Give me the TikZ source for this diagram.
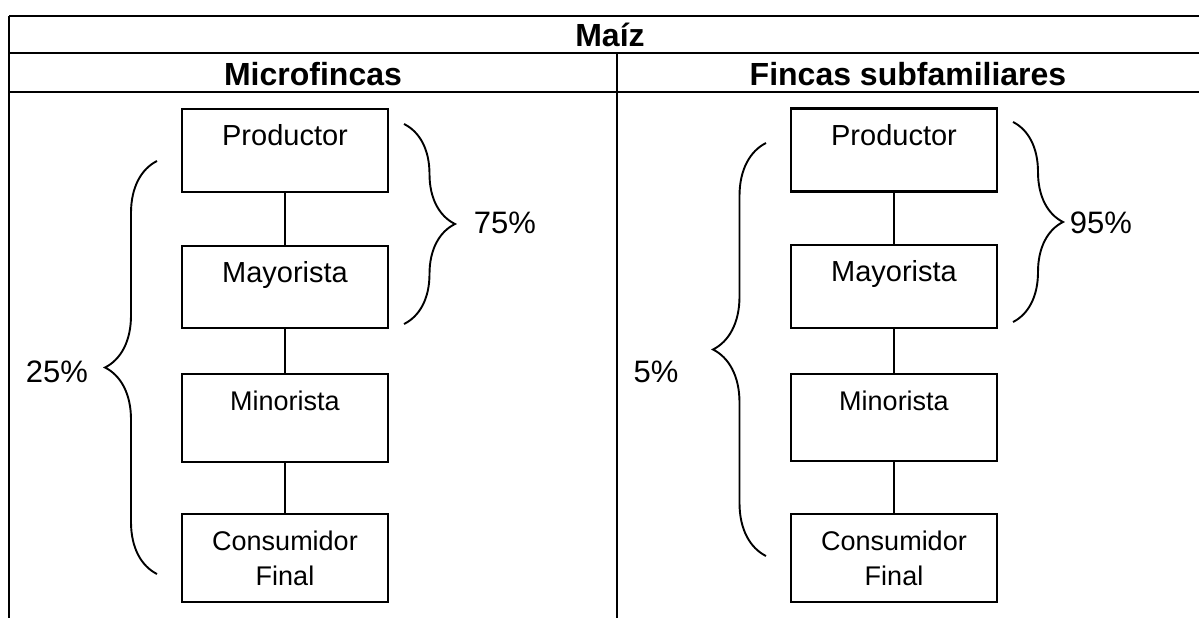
\documentclass[tikz,border=0pt]{standalone}
\usepackage{fontspec}
\setmainfont{Liberation Sans}
\usetikzlibrary{decorations.pathreplacing}
\tikzset{
	caja/.style={draw, line width=2.6pt, minimum width=206pt, inner sep=0pt, align=center, font=\fontsize{27}{35}\selectfont},
	rotulo/.style={anchor=base, inner sep=0pt, font=\fontsize{#1}{35}\selectfont},
	titulo/.style={anchor=base, inner sep=0pt, font=\fontsize{32}{38}\selectfont\bfseries},
	cifra/.style={anchor=base, inner sep=0pt, font=\fontsize{31}{37}\selectfont},
	linea/.style={line width=1.8pt},
	llave/.style={line width=1.9pt, decorate, decoration={brace, amplitude=#1}}
}

\begin{document}
\begin{tikzpicture}[x=1pt, y=-1pt]
			%%%%% START %%%%%
			\useasboundingbox (0,0) rectangle (1199,618);
			
			% tabla
			\draw[linea] (9,16) -- (1199,16);
			\draw[linea] (9,53) -- (1199,53);
			\draw[linea] (9,92) -- (1199,92);
			\draw[linea] (9,16) -- (9,618);
			\draw[linea] (617,53) -- (617,618);
			
			\node[titulo] (maiz) at (610,47) {Maíz};
			\node[titulo] (micro) at (313,85) {Microfincas};
			\node[titulo] (subfam) at (908,85) {Fincas subfamiliares};
			
			% microfincas
			\node[caja, minimum height=83pt] (prodA) at (285,150.5) {};
			\node[caja, minimum height=82pt] (mayA) at (285,287) {};
			\node[caja, minimum height=88pt] (minA) at (285,418) {};
			\node[caja, minimum height=88pt] (consA) at (285,558) {Consumidor\\Final};
			
			\node[rotulo=29] (tprodA) at ([yshift=-38pt]prodA.north) {Productor};
			\node[rotulo=29] (tmayA) at ([yshift=-38pt]mayA.north) {Mayorista};
			\node[rotulo=27] (tminA) at ([yshift=-38pt]minA.north) {Minorista};
			
			\draw[linea] (prodA) -- (mayA);
			\draw[linea] (mayA) -- (minA);
			\draw[linea] (minA) -- (consA);
			
			\draw[llave=51pt] (404,124) -- (404,324);
			\draw[llave=52pt] (157,574) -- (157,161);
			\node[cifra] (pctA1) at (505,233) {75\%};
			\node[cifra] (pctA2) at (57,382) {25\%};
			
			% fincas subfamiliares
			\node[caja, minimum height=83pt] (prodB) at (894,150) {};
			\node[caja, minimum height=83pt] (mayB) at (894,286.5) {};
			\node[caja, minimum height=87pt] (minB) at (894,417.5) {};
			\node[caja, minimum height=88pt] (consB) at (894,558) {Consumidor\\Final};
			
			\node[rotulo=29] (tprodB) at ([yshift=-38pt]prodB.north) {Productor};
			\node[rotulo=29] (tmayB) at ([yshift=-38pt]mayB.north) {Mayorista};
			\node[rotulo=27] (tminB) at ([yshift=-38pt]minB.north) {Minorista};
			
			\draw[linea] (prodB) -- (mayB);
			\draw[linea] (mayB) -- (minB);
			\draw[linea] (minB) -- (consB);
			
			\draw[llave=50pt] (1013,122) -- (1013,322);
			\draw[llave=53pt] (766,556) -- (766,143);
			\node[cifra] (pctB1) at (1101,233) {95\%};
			\node[cifra] (pctB2) at (656,382) {5\%};
			
			%%%%% END %%%%%
\end{tikzpicture}
\end{document}
